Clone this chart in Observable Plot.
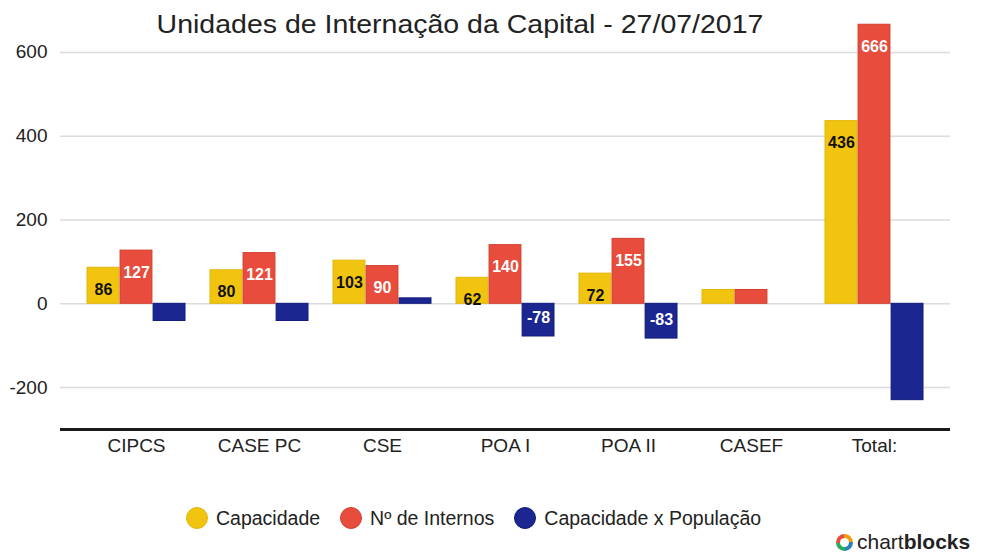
<!DOCTYPE html>
<html>
<head>
<meta charset="utf-8">
<script src="https://cdn.jsdelivr.net/npm/d3@7"></script>
<script src="https://cdn.jsdelivr.net/npm/@observablehq/plot@0.6"></script>
<style>
  body { margin: 0; background: #fff; font-family: "Liberation Sans", Arial, sans-serif; }
  #wrap { position: relative; width: 982px; height: 553px; overflow: hidden; background: #fff; }
  #chart { position: absolute; left: 0; top: 0; }
  #title { position: absolute; left: 0; top: 12px; width: 920px; text-align: center; font-size: 25px; line-height: 25px; color: #222; transform: scaleX(1.14); transform-origin: 460px 0; }
  #legend { position: absolute; top: 507px; left: 186px; display: flex; align-items: center; font-size: 19.5px; line-height: 22px; color: #222; white-space: nowrap; }
  .item { display: flex; align-items: center; margin-right: 20px; }
  .dot { width: 22px; height: 22px; border-radius: 50%; margin-right: 8px; box-sizing: border-box; }
  #logo { position: absolute; left: 836px; top: 532px; display: flex; align-items: center; font-size: 21px; line-height: 20px; color: #222; }
  #logo .ring { width: 17px; height: 17px; border-radius: 50%; margin-right: 4px;
    background: conic-gradient(#f39c12 0 25%, #2980b9 25% 50%, #27ae60 50% 75%, #e74c3c 75% 100%);
    position: relative; }
  #logo .ring::after { content: ""; position: absolute; left: 4px; top: 4px; width: 9px; height: 9px; border-radius: 50%; background: #fff; }
</style>
</head>
<body>
<div id="wrap">
  <div id="chart"></div>
  <div id="title"></div>
  <div id="legend"></div>
  <div id="logo"><div class="ring"></div><span>chart<b>blocks</b></span></div>
</div>
<script>
// ---- data ----
const title = "Unidades de Internação da Capital - 27/07/2017";
const categories = ["CIPCS", "CASE PC", "CSE", "POA I", "POA II", "CASEF", "Total:"];
const series = ["Capacidade", "Nº de Internos", "Capacidade x População"];
const capacidade = [86, 80, 103, 62, 72, 33, 436];
const internos = [127, 121, 90, 140, 155, 33, 666];
const capPop = [-41, -41, 13, -78, -83, 0, -230];
const yTicks = [-200, 0, 200, 400, 600];
const yDomain = [-300, 700];

// ---- styles ----
const fills = ["#f1c40f", "#e74c3c", "#1c2690"];
const strokes = ["#e2b60a", "#d2402f", "#0f1a7a"];
const labelColors = ["#111", "#fff", "#fff"];

const rows = categories.map((c, i) => ({category: c, v0: capacidade[i], v1: internos[i], v2: capPop[i]}));
const keys = ["v0", "v1", "v2"];

const W = 982, H = 470, ML = 60, MR = 32, MT = 10, MB = 41;
const PI = 0.2, PO = 0.19;
const step = (W - ML - MR) / (categories.length - PI + 2 * PO);
const bw = step * (1 - PI);
const sub = bw / 3;

const marks = [Plot.ruleY(yTicks, {stroke: "#dcdcdc", strokeWidth: 1.5})];
keys.forEach((k, i) => {
  marks.push(Plot.barY(rows, {
    x: "category", y: k, fill: fills[i], stroke: strokes[i], strokeWidth: 1,
    insetLeft: i * sub, insetRight: (2 - i) * sub
  }));
});
keys.forEach((k, i) => {
  const dx = (i - 1) * sub;
  marks.push(Plot.text(rows.filter(d => d[k] >= 50), {
    x: "category", y: k, text: d => String(d[k]), dx, dy: 22,
    fill: labelColors[i], fontSize: 16, fontWeight: "bold", lineAnchor: "middle"
  }));
  // the reference only labels the mid-sized negative bars
  marks.push(Plot.text(rows.filter(d => d[k] <= -50 && d[k] > -200), {
    x: "category", y: k, text: d => String(d[k]), dx, dy: -19,
    fill: labelColors[i], fontSize: 16, fontWeight: "bold", lineAnchor: "middle"
  }));
});
marks.push(Plot.ruleY([yDomain[0]], {stroke: "#1a1a1a", strokeWidth: 3}));

const chart = Plot.plot({
  width: W, height: H,
  marginLeft: ML, marginRight: MR, marginTop: MT, marginBottom: MB,
  style: {fontFamily: "'Liberation Sans', Arial, sans-serif", fontSize: "19px", color: "#222", background: "transparent"},
  x: {domain: categories, paddingInner: PI, paddingOuter: PO, tickSize: 0, tickPadding: 9, label: null},
  y: {domain: yDomain, ticks: yTicks, tickSize: 0, tickPadding: 13, tickFormat: d => String(d), label: null},
  marks
});
document.getElementById("chart").appendChild(chart);
document.getElementById("title").textContent = title;

const legend = document.getElementById("legend");
series.forEach((s, i) => {
  const item = document.createElement("div");
  item.className = "item";
  const dot = document.createElement("div");
  dot.className = "dot";
  dot.style.background = fills[i];
  dot.style.border = "1px solid " + strokes[i];
  const label = document.createElement("span");
  label.textContent = s;
  item.appendChild(dot);
  item.appendChild(label);
  legend.appendChild(item);
});
</script>
</body>
</html>
